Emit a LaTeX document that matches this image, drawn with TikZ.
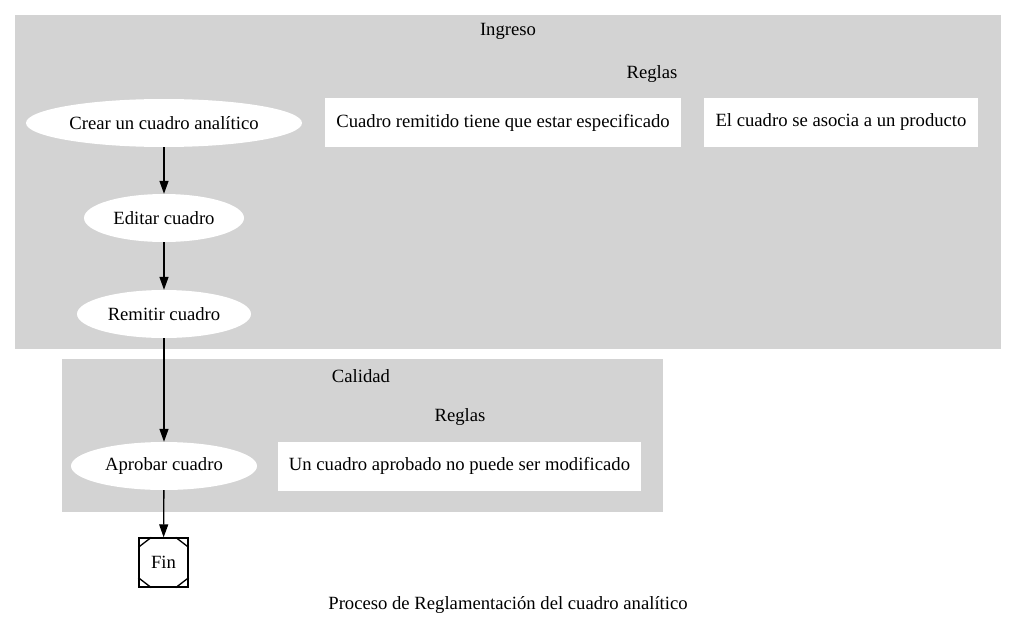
\documentclass[tikz,border=0pt]{standalone}
\usepackage{fontspec}
\setmainfont{Liberation Serif}
\usetikzlibrary{shapes.geometric,arrows.meta}
\definecolor{grisgrupo}{RGB}{211,211,211}
\begin{document}
\begin{tikzpicture}[x=1pt,y=-1pt,
    font=\fontsize{18.67}{22}\selectfont,
    paso/.style={ellipse,fill=white,inner sep=0pt,minimum height=48},
    regla/.style={rectangle,fill=white,inner sep=0pt,minimum height=49},
    flecha/.style={line width=1.33pt,-{Triangle[length=13pt,width=9pt]}}]
  \useasboundingbox (0,0) rectangle (1016,623);
  % grupos
  \fill[grisgrupo] (15,15) rectangle (1001,349);
  \fill[grisgrupo] (62,359) rectangle (663,512);
  \node[inner sep=0pt] (ingreso) at (508,31.5) {Ingreso};
  \node[inner sep=0pt] (reglasA) at (652,74.5) {Reglas};
  \node[inner sep=0pt] (calidad) at (361,376.5) {Calidad};
  \node[inner sep=0pt] (reglasB) at (460,417.5) {Reglas};
  % reglas
  \node[regla,minimum width=356] (especificado) at (503,122.5) {Cuadro remitido tiene que estar especificado};
  \node[regla,minimum width=274] (producto) at (841,122.5) {El cuadro se asocia a un producto};
  \node[regla,minimum width=363] (modificado) at (459.5,466) {Un cuadro aprobado no puede ser modificado};
  % pasos
  \node[paso,minimum width=276] (crear) at (164,123) {Crear un cuadro analítico};
  \node[paso,minimum width=160] (editar) at (164,218) {Editar cuadro};
  \node[paso,minimum width=174] (remitir) at (164,314) {Remitir cuadro};
  \node[paso,minimum width=186] (aprobar) at (164,466) {Aprobar cuadro};
  \node[draw,line width=1.33pt,inner sep=0pt,minimum size=49] (fin) at (163.5,562.5) {Fin};
  \draw[line width=1.33pt] ([xshift=13]fin.north west) -- ([yshift=-10]fin.north west)
    ([xshift=-13]fin.north east) -- ([yshift=-10]fin.north east)
    ([xshift=13]fin.south west) -- ([yshift=10]fin.south west)
    ([xshift=-13]fin.south east) -- ([yshift=10]fin.south east);
  \draw[flecha] (crear) -- (editar);
  \draw[flecha] (editar) -- (remitir);
  \draw[flecha] (remitir) -- (aprobar);
  \draw[flecha] (aprobar) -- (fin);
  \node[inner sep=0pt] (titulo) at (508,605.5) {Proceso de Reglamentación del cuadro analítico};
\end{tikzpicture}
\end{document}
